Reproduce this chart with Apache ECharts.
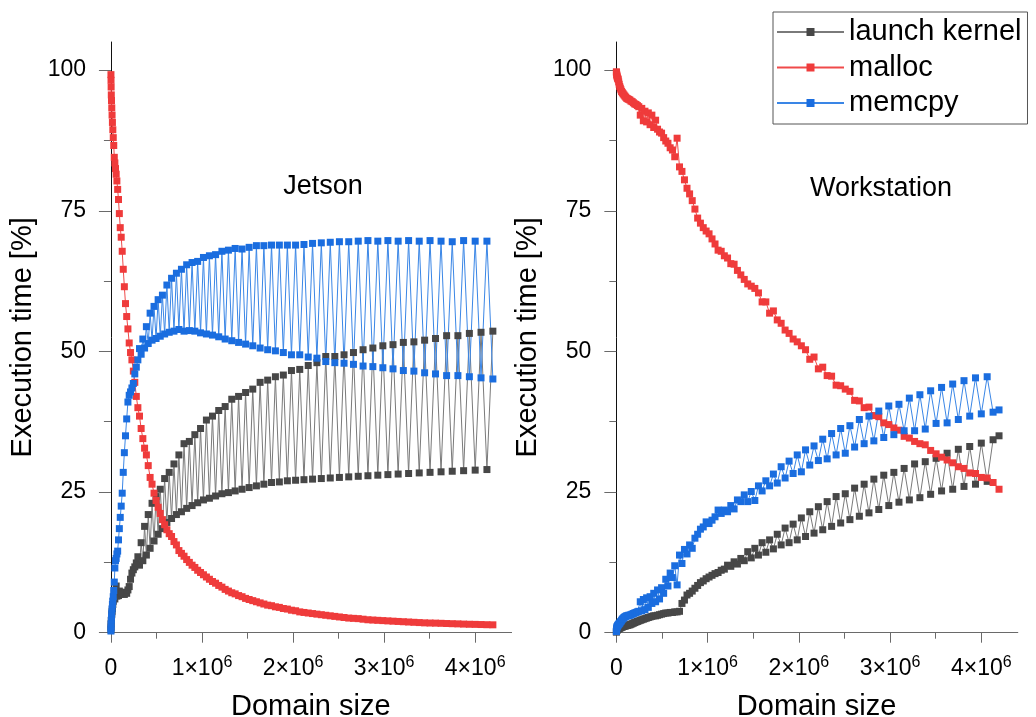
<!DOCTYPE html>
<html><head><meta charset="utf-8">
<script src="https://cdn.jsdelivr.net/npm/echarts@6.0.0/dist/echarts.min.js"></script>
<style>html,body{margin:0;padding:0;background:#fff}#c{width:1036px;height:717px}</style>
</head><body><div id="c"></div>
<script>
// Domain sizes (x values, shared by every series)
const domainSize = [256,1024,2304,4096,6400,9216,12544,16384,
20736,25600,30976,36864,43264,50176,57600,65536,
73984,82944,92416,102400,112896,123904,135424,147456,
160000,173056,186624,200704,215296,230400,246016,262144,
278784,295936,313600,331776,350464,369664,389376,409600,
430336,451584,473344,495616,518400,541696,565504,589824,
614656,640000,665856,692224,719104,746496,774400,802816,
831744,861184,891136,921600,952576,984064,1016064,1048576,
1081600,1115136,1149184,1183744,1218816,1254400,1290496,1327104,
1364224,1401856,1440000,1478656,1517824,1557504,1597696,1638400,
1679616,1721344,1763584,1806336,1849600,1893376,1937664,1982464,
2027776,2073600,2119936,2166784,2214144,2262016,2310400,2359296,
2408704,2458624,2509056,2560000,2611456,2663424,2715904,2768896,
2822400,2876416,2930944,2985984,3041536,3097600,3154176,3211264,
3268864,3326976,3385600,3444736,3504384,3564544,3625216,3686400,
3748096,3810304,3873024,3936256,4000000,4064256,4129024,4194304];

// Jetson panel
const jetsonLaunchKernel = [0.5,1.0,1.6,2.2,2.6,3.2,3.8,4.3,
5.0,5.6,6.2,7.0,6.0,7.5,8.3,6.5,
7.2,6.6,7.4,6.8,7.0,6.9,7.1,6.8,
7.2,7.0,7.6,8.2,9.5,10.6,11.2,11.7,
12.4,13.5,12.0,16.0,12.8,18.9,13.8,21.0,
15.0,23.0,16.3,24.2,17.5,25.5,18.5,27.4,
19.6,28.5,20.3,30.0,21.0,31.6,21.5,33.6,
22.1,34.0,22.6,35.2,23.1,36.3,23.6,37.8,
23.9,38.5,24.3,39.5,24.7,40.2,24.9,41.5,
25.2,42.0,25.5,42.7,25.8,43.3,26.1,44.5,
26.4,44.9,26.7,45.5,26.8,45.8,27.0,46.6,
27.1,46.8,27.2,47.5,27.3,48.0,27.4,49.1,
27.5,49.1,27.6,49.4,27.7,49.8,27.8,50.3,
27.9,50.6,28.0,51.0,28.1,51.2,28.2,51.6,
28.3,51.7,28.4,52.0,28.5,52.3,28.6,52.8,
28.7,52.8,28.8,53.2,28.9,53.4,29.0,53.6];
const jetsonMalloc = [99.2,98.2,97.0,95.6,94.6,93.3,92.0,90.7,
89.4,88.0,86.6,84.5,83.5,82.5,81.5,80.3,
78.8,77.0,74.5,72.0,70.3,67.8,64.6,61.5,
58.5,56.2,54.0,51.5,49.8,48.5,46.5,44.5,
42.0,40.0,38.5,36.3,34.5,32.8,31.6,29.7,
27.6,26.4,24.8,23.5,22.3,21.2,20.1,19.2,
18.3,17.6,17.1,16.2,15.6,14.6,14.1,13.6,
13.0,12.5,12.0,11.6,11.1,10.7,10.3,9.9,
9.5,9.1,8.8,8.4,8.1,7.7,7.4,7.1,
6.9,6.6,6.4,6.1,5.9,5.7,5.5,5.3,
5.1,4.9,4.8,4.6,4.5,4.3,4.2,4.0,
3.9,3.7,3.6,3.5,3.4,3.3,3.2,3.1,
3.0,2.9,2.8,2.7,2.6,2.55,2.5,2.4,
2.3,2.25,2.2,2.15,2.1,2.05,2.0,1.95,
1.9,1.85,1.8,1.75,1.72,1.7,1.67,1.63,
1.6,1.57,1.53,1.5,1.48,1.45,1.42,1.4];
const jetsonMemcpy = [0.3,0.8,1.5,2.2,2.8,3.5,4.2,5.0,
5.6,6.4,7.5,9.0,11.5,12.8,13.2,14.0,
14.5,16.5,18.5,20.5,22.5,24.8,28.5,32.0,
35.0,38.0,41.0,42.2,42.8,43.5,44.3,46.0,
47.2,48.5,50.5,49.5,52.2,50.6,54.4,51.4,
56.8,52.0,58.0,52.3,59.2,52.7,60.0,53.1,
61.8,53.4,63.0,53.6,63.9,53.9,64.6,53.6,
65.4,53.7,65.8,53.6,66.0,53.3,66.7,53.1,
67.0,52.9,67.2,52.6,67.8,52.2,68.0,51.9,
68.3,51.6,68.2,51.3,68.5,51.0,68.8,50.6,
68.8,50.3,68.9,50.1,68.9,49.8,68.9,49.4,
68.9,49.4,69.0,49.0,69.2,48.8,69.3,48.2,
69.4,48.0,69.5,47.9,69.5,47.7,69.6,47.4,
69.7,47.3,69.6,47.1,69.7,46.9,69.6,46.6,
69.7,46.5,69.6,46.2,69.7,46.0,69.6,45.7,
69.5,45.7,69.7,45.5,69.6,45.3,69.6,45.1];

// Workstation panel
const wsLaunchKernel = [0.1,0.2,0.3,0.4,0.5,0.5,0.6,0.6,
0.7,0.7,0.8,0.8,0.9,0.9,1.0,1.0,
1.1,1.1,1.2,1.2,1.3,1.3,1.4,1.4,
1.5,1.6,1.7,1.8,1.9,2.0,2.1,2.2,
2.3,2.4,2.5,2.6,2.7,2.8,2.9,3.0,
3.0,3.1,3.2,3.3,3.4,3.5,3.5,3.6,
3.6,3.7,3.7,3.8,5.2,5.8,6.7,7.0,
7.4,7.9,8.4,8.9,9.2,9.6,9.9,10.2,
10.5,10.7,11.1,11.3,12.0,11.8,12.6,12.2,
13.2,12.8,14.4,13.3,15.0,13.8,16.0,14.3,
16.5,14.9,17.5,15.6,18.6,16.0,19.3,16.5,
20.4,17.1,21.5,17.7,22.4,18.3,23.3,18.9,
24.2,19.5,24.7,20.1,25.7,20.7,26.4,21.3,
27.3,21.9,28.0,22.6,28.5,23.2,29.2,23.6,
30.0,24.0,30.4,24.6,31.0,25.2,31.9,25.5,
32.6,26.0,33.1,26.4,33.7,26.9,34.3,35.0];
const wsMalloc = [99.7,99.6,99.5,99.2,99.0,98.8,98.6,98.5,
98.3,97.9,97.5,97.1,96.8,96.5,96.2,96.0,
95.8,95.6,95.4,95.2,95.0,94.9,94.8,94.7,
94.5,94.4,94.2,94.0,93.9,93.7,93.5,92.0,
93.2,91.0,92.7,90.8,92.4,90.3,92.0,89.8,
91.1,89.5,89.0,88.8,88.0,87.4,87.0,86.2,
85.8,84.6,87.9,82.8,82.0,80.5,79.0,78.0,
76.8,75.3,73.7,72.8,72.0,71.4,70.9,70.0,
69.1,68.0,67.8,67.0,66.6,65.6,65.5,64.4,
63.6,62.8,62.0,61.6,61.2,60.4,58.8,58.8,
56.8,57.2,55.6,55.0,53.8,53.2,52.2,51.7,
51.0,50.3,48.6,49.0,46.9,47.2,45.7,45.6,
44.0,43.9,43.3,42.9,41.3,41.2,40.0,40.1,
38.6,38.4,37.3,37.0,36.4,36.0,34.9,34.6,
34.0,33.6,33.4,32.4,31.8,31.2,30.7,30.2,
29.5,29.2,28.4,28.3,27.6,27.5,26.7,25.5];
const wsMemcpy = [0.2,0.4,0.6,0.8,1.0,1.1,1.2,1.3,
1.4,1.5,1.6,1.7,1.9,2.0,2.2,2.4,
2.5,2.7,2.8,2.9,3.0,3.0,3.1,3.1,
3.2,3.3,3.4,3.5,3.6,3.7,3.8,5.5,
3.9,5.9,4.1,6.2,4.5,6.4,5.2,7.0,
5.5,7.6,6.0,8.0,7.0,9.5,8.3,10.6,
9.8,11.9,8.5,13.8,12.3,14.8,14.0,15.6,
15.0,16.8,17.5,18.4,18.8,19.7,19.4,20.0,
20.6,21.8,21.2,21.8,21.5,22.6,22.0,23.6,
23.3,24.5,23.3,25.1,23.5,26.1,25.2,27.0,
26.1,28.2,26.6,29.5,27.5,30.5,28.3,31.6,
28.6,32.5,29.8,33.2,30.6,34.4,30.9,35.4,
31.6,36.3,31.9,36.8,33.0,37.9,33.6,38.5,
34.1,39.4,34.7,40.3,35.2,40.6,35.9,41.7,
35.9,42.3,36.2,43.0,37.2,43.6,37.3,44.2,
37.9,44.8,38.5,45.3,38.9,45.5,39.2,39.6];

// Axis ticks
const xMajorTicks = [0, 1000000, 2000000, 3000000, 4000000];
const xMinorTicks = [500000, 1500000, 2500000, 3500000];
const yMajorTicks = [0, 25, 50, 75, 100];
const yMinorTicks = [12.5, 37.5, 62.5, 87.5];
const seriesNames = ['launch kernel', 'malloc', 'memcpy'];
const panelTitles = ['Jetson', 'Workstation'];
const panelData = [
  [jetsonLaunchKernel, jetsonMalloc, jetsonMemcpy],
  [wsLaunchKernel, wsMalloc, wsMemcpy]
];

const FONT = '"Liberation Sans", Arial, Helvetica, sans-serif';
const lineColors = ['#7a7a7a', '#f04a4a', '#3a86e6'];
const markColors = ['#474747', '#ef3b3b', '#1a6ddf'];
const grids = [
  {left: 100, top: 42, width: 411.6, height: 590.7, outerBoundsMode: 'none', containLabel: false},
  {left: 605.4, top: 42, width: 412.4, height: 590.7, outerBoundsMode: 'none', containLabel: false}
];
const titlePos = [[323, 187], [881, 189]];

function pairs(ys) { return domainSize.map((x, i) => [x, ys[i]]); }

const xAxis = [], yAxis = [], series = [], graphic = [];
grids.forEach((g, gi) => {
  xAxis.push({
    gridIndex: gi, type: 'value', min: -120000, max: 4400000, position: 'bottom',
    axisLine: {lineStyle: {color: '#6a6a6a', width: 1}},
    axisTick: {length: 10, customValues: xMajorTicks, lineStyle: {color: '#6a6a6a'}},
    axisLabel: {
      customValues: xMajorTicks, margin: 22,
      formatter: v => v === 0 ? '{n|0}' : '{n|' + (v / 1e6) + '×10}{sup|6}',
      rich: {
        n: {fontSize: 23, lineHeight: 27, fontFamily: FONT, color: '#000'},
        sup: {fontSize: 16, lineHeight: 16, verticalAlign: 'top', fontFamily: FONT, color: '#000'}
      }
    },
    splitLine: {show: false},
    name: 'Domain size', nameLocation: 'middle', nameGap: 60,
    nameTextStyle: {fontSize: 29, fontFamily: FONT, color: '#000', padding: [0, 0, 0, 10]}
  });
  xAxis.push({
    gridIndex: gi, type: 'value', min: -120000, max: 4400000, position: 'bottom',
    axisLine: {show: false},
    axisTick: {length: 6, customValues: xMinorTicks, lineStyle: {color: '#6a6a6a'}},
    axisLabel: {show: false}, splitLine: {show: false}
  });
  yAxis.push({
    gridIndex: gi, type: 'value', min: 0, max: 105, position: 'left',
    axisLine: {onZero: true, lineStyle: {color: '#111', width: 1}},
    axisTick: {length: 12, customValues: yMajorTicks, lineStyle: {color: '#6a6a6a'}},
    axisLabel: {customValues: yMajorTicks, margin: 14, fontSize: 23, fontFamily: FONT, color: '#000'},
    splitLine: {show: false},
    name: 'Execution time [%]', nameLocation: 'middle', nameGap: 63,
    nameTextStyle: {fontSize: 29, fontFamily: FONT, color: '#000'}
  });
  yAxis.push({
    gridIndex: gi, type: 'value', min: 0, max: 105, position: 'left',
    axisLine: {show: false, onZero: true},
    axisTick: {length: 7, customValues: yMinorTicks, lineStyle: {color: '#6a6a6a'}},
    axisLabel: {show: false}, splitLine: {show: false}
  });
  panelData[gi].forEach((vals, si) => {
    series.push({
      type: 'line', name: seriesNames[si],
      xAxisIndex: gi * 2, yAxisIndex: gi * 2,
      data: pairs(vals),
      symbol: 'rect', symbolSize: 7,
      lineStyle: {width: 1, color: lineColors[si]},
      itemStyle: {color: markColors[si]},
      emphasis: {disabled: true},
      animation: false
    });
  });
  graphic.push({
    type: 'text', x: titlePos[gi][0], y: titlePos[gi][1],
    style: {text: panelTitles[gi], fontSize: 27, fontFamily: FONT, fill: '#000', align: 'center', verticalAlign: 'middle'}
  });
});

const chart = echarts.init(document.getElementById('c'), null, {renderer: 'canvas'});
chart.setOption({
  backgroundColor: '#fff',
  animation: false,
  grid: grids,
  xAxis, yAxis, series, graphic,
  legend: {
    left: 773, top: 12, orient: 'vertical', data: seriesNames,
    itemWidth: 67, itemHeight: 10, itemGap: 6.5,
    padding: [5.5, 6, 6.5, 3],
    borderColor: '#555', borderWidth: 1, backgroundColor: '#fff',
    selectedMode: false,
    textStyle: {fontSize: 29, lineHeight: 29, fontFamily: FONT, color: '#000'}
  }
});
</script>
</body></html>
